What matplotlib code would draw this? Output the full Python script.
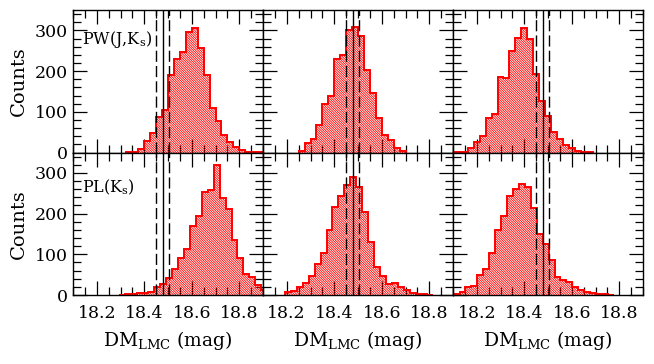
import numpy as np
import matplotlib
matplotlib.use("Agg")
import matplotlib.pyplot as plt
from matplotlib.ticker import MultipleLocator

# ---- data (bin width 0.025 mag) ----
bin_width = 0.025
pw_lmc_start = 18.325
pw_lmc_counts = [1, 2, 8, 29, 49, 88, 104, 190, 229, 246, 295, 305, 256, 190,
                 110, 78, 44, 26, 14, 6, 2, 1, 1]
pw_mid_start = 18.25
pw_mid_counts = [4, 24, 32, 67, 118, 139, 230, 240, 301, 309, 285, 203, 145,
                 84, 44, 30, 12, 3]
pw_right_start = 18.0875
pw_right_counts = [1, 1, 2, 12, 26, 40, 84, 94, 186, 182, 250, 282, 305, 278,
                   193, 127, 90, 51, 32, 18, 10, 3, 1, 1]
pl_left_start = 18.2925
pl_left_counts = [1, 2, 2, 4, 6, 8, 20, 28, 41, 64, 92, 114, 169, 195, 252,
                  258, 320, 238, 212, 136, 92, 51, 45, 24, 12]
pl_mid_start = 18.1925
pl_mid_counts = [7, 10, 20, 30, 46, 75, 103, 160, 216, 242, 271, 291, 265, 204,
                 130, 68, 46, 27, 29, 19, 12, 6, 2, 2, 1]
pl_right_start = 18.0775
pl_right_counts = [2, 2, 8, 20, 23, 49, 65, 102, 159, 195, 244, 261, 273, 266,
                   214, 151, 126, 86, 43, 38, 31, 20, 12, 7, 4, 2, 2, 1]

dm_ref = 18.477
dm_err = 0.026
row_labels = [r"PW(J,K$_{\rm s}$)", r"PL(K$_{\rm s}$)"]
xtick_labels = ["18.2", "18.4", "18.6", "18.8"]
xtick_values = [18.2, 18.4, 18.6, 18.8]

panels = [
    [(pw_lmc_start, pw_lmc_counts), (pw_mid_start, pw_mid_counts), (pw_right_start, pw_right_counts)],
    [(pl_left_start, pl_left_counts), (pl_mid_start, pl_mid_counts), (pl_right_start, pl_right_counts)],
]

plt.rcParams["font.family"] = ["DejaVu Serif"]
plt.rcParams["mathtext.fontset"] = "dejavuserif"
plt.rcParams["hatch.linewidth"] = 0.6
plt.rcParams["hatch.color"] = "red"

fig, axes = plt.subplots(2, 3, figsize=(6.54, 3.64), dpi=100, sharex=True, sharey=True)
fig.subplots_adjust(left=73/654, right=643/654, top=1-10/364, bottom=1-295/364,
                    wspace=0, hspace=0)

for r in range(2):
    for c in range(3):
        ax = axes[r, c]
        start, counts = panels[r][c]
        counts = np.array(counts, dtype=float)
        edges = start + bin_width * np.arange(len(counts) + 1)
        ax.stairs(counts, edges, fill=True, facecolor="none", edgecolor="red",
                  hatch="\\" * 14, linewidth=0, zorder=2)
        ax.stairs(counts, edges, fill=False, color="red", linewidth=1.4, zorder=3)
        ax.axvline(dm_ref, color="black", lw=1.0, zorder=4)
        for s in (-1, 1):
            ax.axvline(dm_ref + s * dm_err, color="black", lw=1.0,
                       dashes=(8, 3), zorder=4)
        ax.set_xlim(18.1, 18.9)
        ax.set_ylim(0, 350)
        ax.xaxis.set_major_locator(MultipleLocator(0.2))
        ax.xaxis.set_minor_locator(MultipleLocator(0.05))
        ax.yaxis.set_major_locator(MultipleLocator(100))
        ax.yaxis.set_minor_locator(MultipleLocator(20))
        ax.tick_params(which="both", direction="in", top=True, right=True,
                       width=0.9, labelsize=12.5, colors="black")
        ax.tick_params(which="major", length=10)
        ax.tick_params(which="minor", length=5.5)
        for sp in ax.spines.values():
            sp.set_linewidth(1.0)
            sp.set_zorder(5)
        if r == 1:
            ax.set_xticks(xtick_values)
            ax.set_xticklabels(xtick_labels)
            ax.tick_params(axis="x", pad=7)
            ax.set_xlabel(r"DM$_{\rm LMC}$ (mag)", fontsize=13.5, labelpad=5)
        if c == 0:
            ax.set_ylabel("Counts", fontsize=14, labelpad=5)
            ax.text(0.05, 0.79 if r == 0 else 0.755, row_labels[r],
                    transform=ax.transAxes, fontsize=11.5, ha="left", va="center")

fig.savefig("out.png", dpi=100)
